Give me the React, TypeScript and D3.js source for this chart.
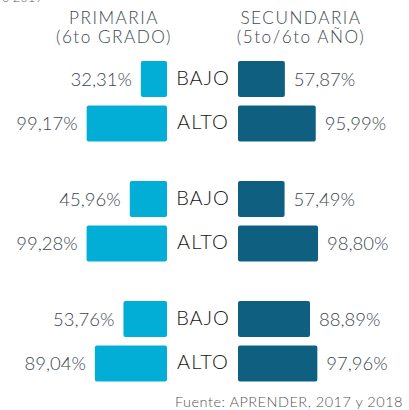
import React from "react";
import * as d3 from "d3";

const levels = ["BAJO", "ALTO"];
const groups = ["g1", "g2", "g3"];
const primaria = [
  [32.31, 99.17],
  [45.96, 99.28],
  [53.76, 89.04],
];
const secundaria = [
  [57.87, 95.99],
  [57.49, 98.8],
  [88.89, 97.96],
];
const titlePrim = ["PRIMARIA", "(6to GRADO)"];
const titleSec = ["SECUNDARIA", "(5to/6to AÑO)"];
const source = "Fuente: APRENDER, 2017 y 2018";

const fmt = (v: number) => v.toFixed(2).replace(".", ",") + "%";

export default function App() {
  const W = 409, H = 410;
  const leftEnd = 167, rightStart = 238, midX = 203;
  const x = d3.scaleLinear().domain([0, 100]).range([0, 81]);
  const gy = d3.scaleBand().domain(groups).range([61, 421]).paddingInner(0).paddingOuter(0);
  const ly = d3.scaleBand().domain(levels).range([0, 80]).paddingInner(0.2).paddingOuter(0);
  const light = "#02AED6";
  const dark = "#0F5F81";
  const txt = "#3c4750";
  const font = "Lato, 'Open Sans', sans-serif";

  return (
    <svg width={W} height={H} style={{ position: "absolute", left: 0, top: 0, background: "#fff" }} fontFamily={font}>
      <text x={2} y={2} fontSize={13} fill="#666" fontWeight={300}>o 2019</text>
      {titlePrim.map((t, i) => (
        <text key={t} x={114} y={23.5 + i * 19} textAnchor="middle" fontSize={17.2} fill={txt} fontWeight={300} letterSpacing={1.5}>{t}</text>
      ))}
      {titleSec.map((t, i) => (
        <text key={t} x={301} y={23.5 + i * 19} textAnchor="middle" fontSize={17.2} fill={txt} fontWeight={300} letterSpacing={1.5}>{t}</text>
      ))}
      {groups.map((g, gi) => (
        <g key={g} transform={`translate(0,${gy(g)})`}>
          {levels.map((lv, li) => {
            const y = ly(lv)!;
            const h = 36;
            const cy = y + h / 2;
            const pw = x(primaria[gi][li]);
            const sw = x(secundaria[gi][li]);
            return (
              <g key={lv}>
                <rect x={leftEnd - pw} y={y} width={pw} height={h} rx={2} fill={light} />
                <rect x={rightStart} y={y} width={sw} height={h} rx={2} fill={dark} />
                <text x={midX} y={cy + 6} textAnchor="middle" fontSize={20} fill="#151515" fontWeight={300} letterSpacing={1}>{lv}</text>
                <text x={leftEnd - pw - 9} y={cy + 6.5} textAnchor="end" fontSize={18.5} fill={txt} fontWeight={300}>{fmt(primaria[gi][li])}</text>
                <text x={rightStart + sw + 9} y={cy + 6.5} textAnchor="start" fontSize={18.5} fill={txt} fontWeight={300}>{fmt(secundaria[gi][li])}</text>
              </g>
            );
          })}
        </g>
      ))}
      <text x={403} y={407} textAnchor="end" fontSize={14.5} fill="#555" fontWeight={300} letterSpacing={0.5}>{source}</text>
    </svg>
  );
}
